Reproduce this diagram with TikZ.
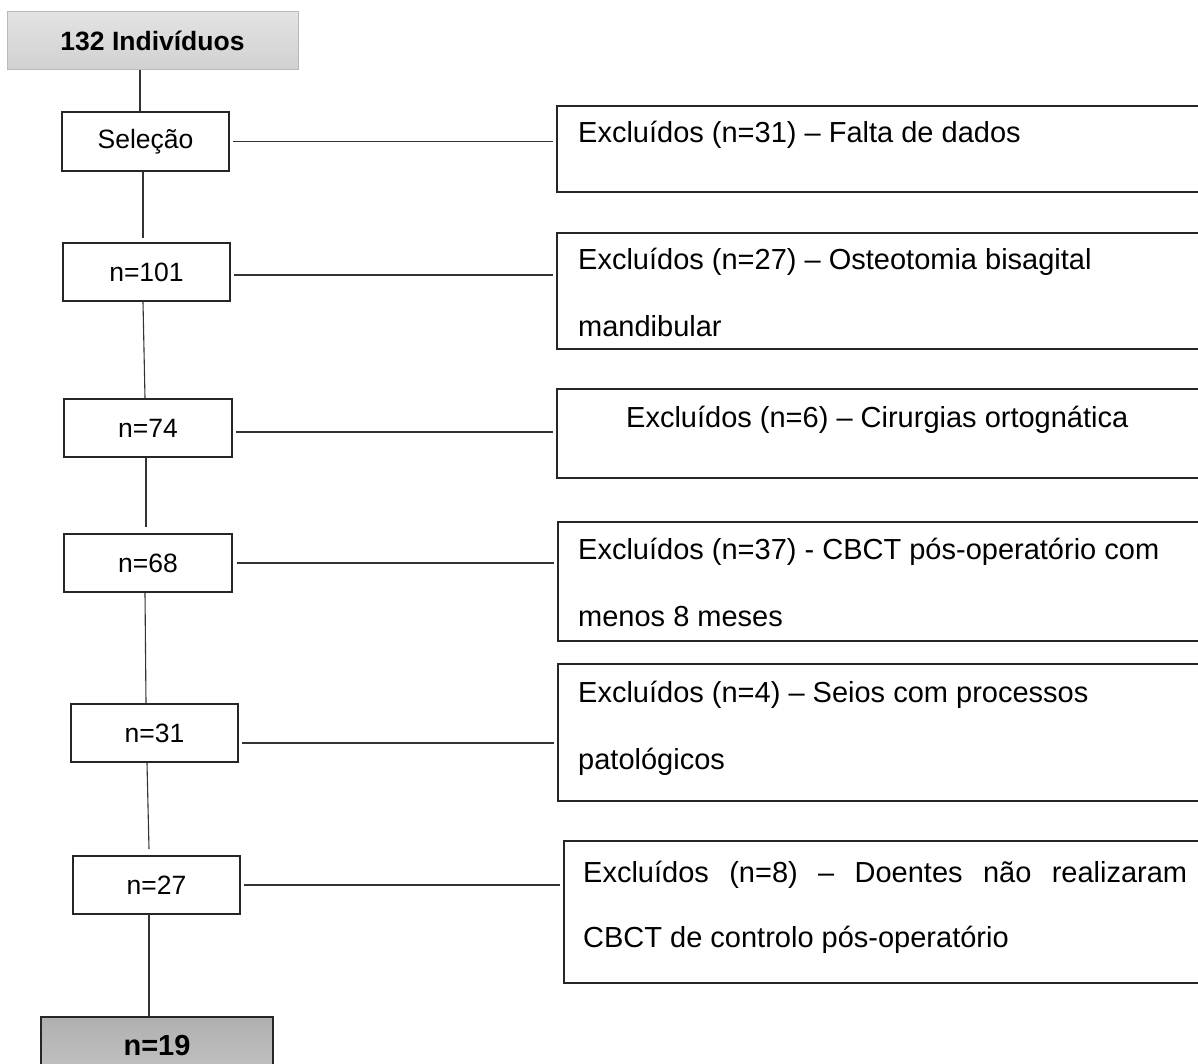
\documentclass[tikz,border=0pt]{standalone}
\usepackage{fontspec}
\setmainfont{Liberation Sans}
\begin{document}
\begin{tikzpicture}[x=1pt,y=-1pt,
  lbox/.style={draw=black!85, line width=1.6pt, rectangle, inner sep=0pt, minimum height=58pt, font=\fontsize{26.5}{30}\selectfont},
  rbox/.style={draw=black!85, line width=1.6pt, rectangle, inner sep=0pt, anchor=north west, minimum width=680pt},
  rtext/.style={anchor=base west, inner sep=0pt, font=\fontsize{29}{33}\selectfont},
  conn/.style={draw=black!80, line width=1.1pt}]
\useasboundingbox (0,0) rectangle (1198,1064);
\clip (0,0) rectangle (1198,1064);
\fill[white] (0,0) rectangle (1198,1064);

% left column
\node[draw=gray!55, line width=1pt, top color=gray!22, bottom color=gray!36, minimum width=291pt, minimum height=58pt, inner sep=0pt, font=\bfseries\fontsize{26.5}{30}\selectfont] (top) at (152.5,41) {132 Indivíduos};
\node[lbox, minimum width=167pt, minimum height=59pt] (sel) at (145.5,141.5) {Seleção};
\node[lbox, minimum width=167pt] (n101) at (146.5,272) {n=101};
\node[lbox, minimum width=168pt] (n74) at (148,428) {n=74};
\node[lbox, minimum width=168pt] (n68) at (148,563) {n=68};
\node[lbox, minimum width=167pt] (n31) at (154.5,733) {n=31};
\node[lbox, minimum width=167pt] (n27) at (156.5,885) {n=27};
\node[draw=black!85, line width=1.6pt, top color=gray!62, bottom color=gray!48, minimum width=232pt, minimum height=58pt, inner sep=0pt, font=\bfseries\fontsize{29}{33}\selectfont] (n19) at (157,1046) {n=19};

% right column
\node[rbox, minimum height=86pt] (e1) at (556,105) {};
\node[rbox, minimum height=116pt] (e2) at (556,232) {};
\node[rbox, minimum height=89pt] (e3) at (556,388) {};
\node[rbox, minimum height=119pt] (e4) at (557,521) {};
\node[rbox, minimum height=137pt] (e5) at (557,663) {};
\node[rbox, minimum height=142pt] (e6) at (563,840) {};

\node[rtext] (t1) at (578,143) {Excluídos (n=31) – Falta de dados};
\node[rtext] (t2a) at (578,270) {Excluídos (n=27) – Osteotomia bisagital};
\node[rtext] (t2b) at (578,336) {mandibular};
\node[rtext] (t3) at (626,427) {Excluídos (n=6) – Cirurgias ortognática};
\node[rtext] (t4a) at (578,559) {Excluídos (n=37) - CBCT pós-operatório com};
\node[rtext] (t4b) at (578,626) {menos 8 meses};
\node[rtext] (t5a) at (578,702) {Excluídos (n=4) – Seios com processos};
\node[rtext] (t5b) at (578,769) {patológicos};
\node[rtext] (t6a) at (583,882) {\makebox[604pt][s]{Excluídos (n=8) – Doentes não realizaram}};
\node[rtext] (t6b) at (583,947) {CBCT de controlo pós-operatório};

% vertical connectors
\draw[conn] (top.south -| 140,0) -- (sel.north -| 140,0);
\draw[conn] (sel.south -| 143,0) -- ([yshift=4pt]n101.north -| 143,0);
\draw[conn] (n101.south -| 143,0) -- (n74.north -| 145,0);
\draw[conn] (n74.south -| 146,0) -- ([yshift=6pt]n68.north -| 146,0);
\draw[conn] (n68.south -| 145,0) -- (n31.north -| 146,0);
\draw[conn] (n31.south -| 147,0) -- ([yshift=6pt]n27.north -| 149,0);
\draw[conn] (n27.south -| 149,0) -- (n19.north -| 149,0);

% horizontal connectors
\draw[conn, shorten <=3pt, shorten >=3pt] (sel.east) -- (sel.east -| e1.west);
\draw[conn, shorten <=3pt, shorten >=3pt] ([yshift=-3pt]n101.east) -- ([yshift=-3pt]n101.east -| e2.west);
\draw[conn, shorten <=3pt, shorten >=3pt] ([yshift=-4pt]n74.east) -- ([yshift=-4pt]n74.east -| e3.west);
\draw[conn, shorten <=4pt, shorten >=3pt] (n68.east) -- (n68.east -| e4.west);
\draw[conn, shorten <=3pt, shorten >=3pt] ([yshift=-10pt]n31.east) -- ([yshift=-10pt]n31.east -| e5.west);
\draw[conn, shorten <=3pt, shorten >=3pt] (n27.east) -- (n27.east -| e6.west);
\end{tikzpicture}
\end{document}
